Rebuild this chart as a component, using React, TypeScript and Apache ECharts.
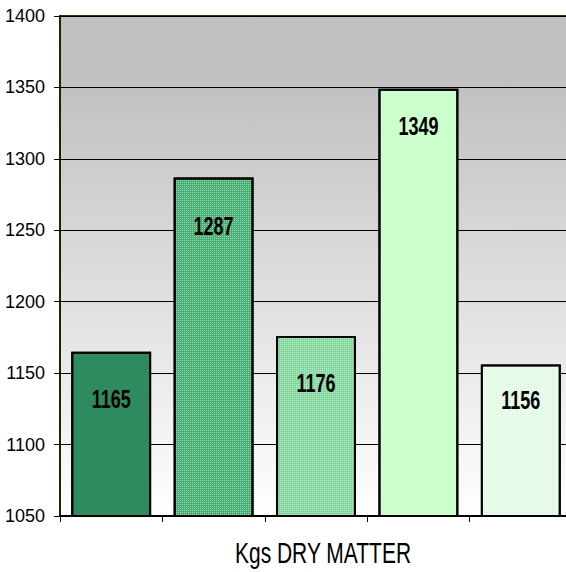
import React, { useEffect, useRef } from "react";
import * as echarts from "echarts";

const categories = ["A", "B", "C", "D", "E"];
const values = [1165, 1287, 1176, 1349, 1156];
const yTicks = [1050, 1100, 1150, 1200, 1250, 1300, 1350, 1400];
const axisTitle = "Kgs DRY MATTER";

const barColors = ["#2e8b5f", "#4aad76", "#86d69f", "#ccffcc", "#effdef"];
const decalColors = [null, "rgba(170,235,190,0.75)", "rgba(205,246,214,0.7)", null, "rgba(200,245,210,0.8)"];
const labelOffsets = [48, 49, 47, 38, 36];

const FONT = '"Liberation Sans", Arial, sans-serif';

export default function App() {
  const ref = useRef<HTMLDivElement>(null);
  useEffect(() => {
    const chart = echarts.init(ref.current!, null, { renderer: "svg" });
    chart.setOption({
      animation: false,
      grid: {
        left: 60,
        right: -6,
        top: 16,
        bottom: 56,
        outerBoundsMode: "none",
        containLabel: false,
        show: true,
        borderWidth: 2,
        borderColor: "#333300",
        backgroundColor: new echarts.graphic.LinearGradient(0, 0, 0, 1, [
          { offset: 0, color: "#c0c0c0" },
          { offset: 0.15, color: "#c2c2c2" },
          { offset: 1, color: "#ffffff" },
        ]),
      },
      graphic: [
        {
          type: "text",
          x: 323,
          y: 553,
          scaleX: 0.7,
          style: {
            text: axisTitle,
            font: `30px ${FONT}`,
            fill: "#000",
            align: "center",
            verticalAlign: "middle",
          },
        },
      ],
      xAxis: {
        type: "category",
        data: categories,
        axisLine: { lineStyle: { color: "#000", width: 2 } },
        axisTick: { show: true, length: 6, lineStyle: { color: "#000" } },
        axisLabel: { show: false },
      },
      yAxis: {
        type: "value",
        min: yTicks[0],
        max: yTicks[yTicks.length - 1],
        interval: 50,
        axisLine: { show: true, lineStyle: { color: "#222200", width: 2 } },
        axisTick: { show: true, length: 6, lineStyle: { color: "#000" } },
        axisLabel: {
          fontFamily: FONT,
          fontSize: 18,
          color: "#000",
          margin: 15,
          formatter: (v: number) => String(v),
        },
        splitLine: { lineStyle: { color: "#000", width: 1 } },
      },
      series: [
        {
          type: "bar",
          barCategoryGap: "22%",
          data: values.map((v, i) => ({
            value: v,
            itemStyle: {
              color: barColors[i],
              borderColor: "#000",
              borderWidth: 2,
              decal: decalColors[i]
                ? {
                    symbol: "rect",
                    symbolSize: 1,
                    dashArrayX: [1, 1],
                    dashArrayY: [1, 1],
                    color: decalColors[i],
                  }
                : { symbol: "none" },
            },
          })),
        },
        {
          type: "custom",
          data: values.map((v, i) => [i, v]),
          z: 10,
          renderItem: (params: any, api: any) => {
            const idx = params.dataIndex;
            const p = api.coord([api.value(0), api.value(1)]);
            return {
              type: "text",
              x: p[0],
              y: p[1] + labelOffsets[idx],
              scaleX: 0.72,
              style: {
                text: String(api.value(1)),
                font: `bold 25px ${FONT}`,
                fill: "#000",
                align: "center",
                verticalAlign: "middle",
              },
            };
          },
        },
      ],
    });
    return () => chart.dispose();
  }, []);
  return <div ref={ref} style={{ width: 566, height: 572, position: "absolute", left: 0, top: 0 }} />;
}
